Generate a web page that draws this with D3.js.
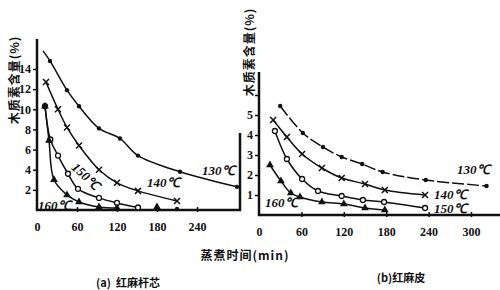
<!DOCTYPE html>
<html>
<head>
<meta charset="utf-8">
<script src="https://cdn.jsdelivr.net/npm/d3@7"></script>
<style>
body { margin: 0; background: #fff; }
.axis path, .axis line { stroke: #111; }
.axis text { font-family: "Liberation Serif", serif; font-weight: bold; font-size: 12px; fill: #111; }
.curve { fill: none; stroke: #111; stroke-width: 1.5; }
.lab { font-family: "Liberation Serif", serif; font-style: italic; font-weight: bold; font-size: 13px; fill: #111; }
.cjk { font-family: "Noto Sans CJK SC", sans-serif; font-weight: bold; fill: #111; }
</style>
</head>
<body>
<svg class="chart" width="500" height="290"></svg>
<script>
// (a) stem core - minutes / lignin %
var a130_t = [9, 19.5, 45, 63, 93, 124.5, 151.5, 214.5, 300]
var a130_v = [15.8, 14.8, 11.9, 10.3, 8.1, 7.1, 5.4, 3.8, 2.3]
var a140_t = [13.5, 31.5, 45, 63, 93, 120, 151.5, 210]
var a140_v = [12.7, 10.0, 8.2, 6.4, 4.0, 2.7, 1.9, 0.9]
var a150_t = [12, 20, 31.5, 46.5, 61.5, 93, 120, 151.5]
var a150_v = [10.3, 7.0, 5.4, 3.6, 2.1, 1.2, 0.7, 0.25]
var a160_t = [12, 18, 25.5, 45, 63, 93, 120]
var a160_v = [10.3, 6.9, 3.0, 1.5, 0.8, 0.3, 0.2]
var aExtra = [{t: 180, v: 0.3, m: "tri"}, {t: 210, v: 0.1, m: "dot"}]

// (b) bark
var b130_t = [30, 62, 90.5, 117, 146, 175, 236, 322]
var b130_v = [5.45, 4.1, 3.4, 2.9, 2.55, 2.15, 1.75, 1.45]
var b140_t = [20, 39.5, 61, 89, 117, 150, 178, 235]
var b140_v = [4.75, 3.9, 3.05, 2.35, 1.85, 1.55, 1.25, 1.0]
var b150_t = [22.5, 39.5, 61, 83.5, 117, 147, 177, 235]
var b150_v = [4.2, 2.8, 1.8, 1.2, 0.95, 0.75, 0.65, 0.35]
var b160_t = [15.5, 31, 45, 58, 89, 120, 150, 178]
var b160_v = [2.5, 1.7, 1.1, 0.9, 0.65, 0.55, 0.35, 0.25]

var aXTicks = [0, 60, 120, 180, 240]
var aYTicks = [2, 4, 6, 8, 10, 12, 14]
var bXTicks = [0, 60, 120, 180, 240, 300]
var bYTicks = [1, 2, 3, 4, 5, 6]
var bYLabels = ["1", "2", "3", "4", "5", ""]

var svg = d3.select(".chart")

function zip(t, v) { return t.map(function(d, i) { return {t: d, v: v[i]} }) }

function drawAxes(x, y, xt, yt, yfmt, xEnd, yTop) {
    var gx = svg.append("g").attr("class", "axis")
      .attr("transform", "translate(0," + y(0) + ")")
      .call(d3.axisBottom(x).tickValues(xt).tickSize(0).tickPadding(12))
    gx.select(".domain").remove()
    gx.selectAll(".tick").filter(function(d) { return d > 0 })
      .append("line").attr("y1", -3).attr("y2", 2).attr("stroke-width", 1.5)
    gx.append("line").attr("x1", x(0) - 1).attr("x2", xEnd)
      .attr("stroke", "#111").attr("stroke-width", 2.5)

    var gy = svg.append("g").attr("class", "axis")
      .attr("transform", "translate(" + x(0) + ",0)")
      .call(d3.axisLeft(y).tickValues(yt).tickSize(4).tickPadding(2).tickFormat(yfmt))
    gy.select(".domain").remove()
    gy.selectAll(".tick line").attr("stroke-width", 1.5)
    gy.append("line").attr("y1", y(0) + 1).attr("y2", yTop)
      .attr("stroke", "#111").attr("stroke-width", 2.5)
}

function marker(g, pts, x, y, m) {
    pts.forEach(function(p) {
        var cx = x(p.t), cy = y(p.v)
        if (m == "dot") {
            g.append("circle").attr("cx", cx).attr("cy", cy).attr("r", 2.2).attr("fill", "#111")
        } else if (m == "circ") {
            g.append("circle").attr("cx", cx).attr("cy", cy).attr("r", 2.5)
              .attr("fill", "#fff").attr("stroke", "#111").attr("stroke-width", 1.3)
        } else if (m == "tri") {
            g.append("path").attr("d", d3.symbol().type(d3.symbolTriangle).size(26)())
              .attr("transform", "translate(" + cx + "," + cy + ")").attr("fill", "#111")
        } else if (m == "x") {
            g.append("path").attr("d", "M-3,-3L3,3M-3,3L3,-3")
              .attr("transform", "translate(" + cx + "," + cy + ")")
              .attr("stroke", "#111").attr("stroke-width", 1.5)
        }
    })
}

function drawSeries(x, y, t, v, m, skipFirst, dash) {
    var pts = zip(t, v)
    var line = d3.line().x(function(d) { return x(d.t) }).y(function(d) { return y(d.v) })
      .curve(d3.curveCatmullRom.alpha(0.5))
    var p = svg.append("path").datum(pts).attr("class", "curve").attr("d", line)
    if (dash) p.attr("stroke-dasharray", dash)
    marker(svg.append("g"), skipFirst ? pts.slice(1) : pts, x, y, m)
}

// panel (a)
var xa = d3.scaleLinear().domain([0, 306]).range([37, 241])
var ya = d3.scaleLinear().domain([0, 14]).range([210, 69])
drawAxes(xa, ya, aXTicks, aYTicks, d3.format("d"), 241, 39)
svg.append("line").attr("x1", 240).attr("x2", 240).attr("y1", 133).attr("y2", 211)
  .attr("stroke", "#111").attr("stroke-width", 2.5)

drawSeries(xa, ya, a130_t, a130_v, "dot", true)
drawSeries(xa, ya, a140_t, a140_v, "x", false)
drawSeries(xa, ya, a150_t, a150_v, "circ", false)
drawSeries(xa, ya, a160_t, a160_v, "tri", false)
aExtra.forEach(function(d) { marker(svg, [d], xa, ya, d.m) })

svg.append("text").attr("class", "lab").attr("x", 202).attr("y", 175).text("130℃")
svg.append("text").attr("class", "lab").attr("x", 147).attr("y", 187).text("140℃")
svg.append("text").attr("class", "lab").attr("transform", "translate(86,176) rotate(42)")
  .attr("text-anchor", "middle").attr("dy", "0.35em").text("150℃")
svg.append("text").attr("class", "lab").attr("x", 38).attr("y", 210).text("160℃")

// panel (b)
var xb = d3.scaleLinear().domain([0, 300]).range([259, 471])
var yb = d3.scaleLinear().domain([0, 6]).range([215, 95])
drawAxes(xb, yb, bXTicks, bYTicks, function(d, i) { return bYLabels[i] }, 500, 72)

drawSeries(xb, yb, b130_t, b130_v, "dot", false, "12,3")
drawSeries(xb, yb, b140_t, b140_v, "x", false)
drawSeries(xb, yb, b150_t, b150_v, "circ", false)
drawSeries(xb, yb, b160_t, b160_v, "tri", false)

svg.append("text").attr("class", "lab").attr("x", 457).attr("y", 174).text("130℃")
svg.append("text").attr("class", "lab").attr("x", 434).attr("y", 199).text("140℃")
svg.append("text").attr("class", "lab").attr("x", 434).attr("y", 213).text("150℃")
svg.append("text").attr("class", "lab").attr("x", 265).attr("y", 207).text("160℃")

// titles
svg.append("text").attr("class", "cjk").attr("font-size", 12)
  .attr("transform", "translate(19,80) rotate(-90)").attr("text-anchor", "middle")
  .attr("letter-spacing", 1).text("木质素含量(%)")
svg.append("text").attr("class", "cjk").attr("font-size", 12)
  .attr("transform", "translate(254,52) rotate(-90)").attr("text-anchor", "middle")
  .attr("letter-spacing", 1).text("木质素含量(%)")
svg.append("text").attr("class", "cjk").attr("font-size", 12)
  .attr("x", 245).attr("y", 260).attr("text-anchor", "middle").attr("letter-spacing", 1)
  .text("蒸煮时间(min)")
svg.append("text").attr("class", "cjk").attr("font-size", 11).attr("font-weight", "normal")
  .attr("x", 128).attr("y", 287).attr("text-anchor", "middle").attr("xml:space", "preserve")
  .text("(a)  红麻杆芯")
svg.append("text").attr("class", "cjk").attr("font-size", 11).attr("font-weight", "normal")
  .attr("x", 401).attr("y", 282).attr("text-anchor", "middle").text("(b)红麻皮")
</script>
</body>
</html>
